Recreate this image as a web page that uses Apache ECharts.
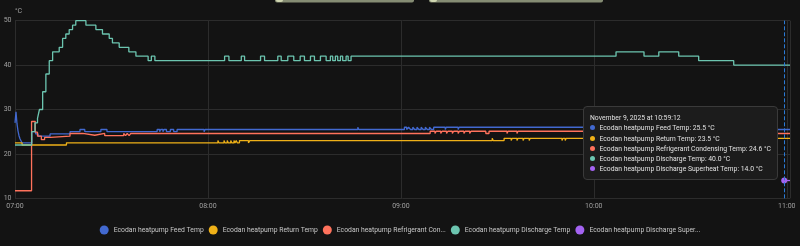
<!DOCTYPE html>
<html><head><meta charset="utf-8">
<script src="https://cdn.jsdelivr.net/npm/echarts@6/dist/echarts.min.js"></script>
<style>html,body{margin:0;padding:0;background:#131313;}#c{width:800px;height:246px;}</style>
</head><body><div id="c"></div>
<script>
// x values are minutes after 07:00 on November 9, 2025
const tickLabels = ['07:00', '08:00', '09:00', '10:00', '11:00'];
const seriesNames = [
  'Ecodan heatpump Feed Temp',
  'Ecodan heatpump Return Temp',
  'Ecodan heatpump Refrigerant Condensing Temp',
  'Ecodan heatpump Discharge Temp',
  'Ecodan heatpump Discharge Superheat Temp'
];
const seriesColors = ['#4269d0', '#efb118', '#ff725c', '#6cc5b0', '#a463f2'];

const feedTemp = [
  [0,27],[0.31,29.5],[0.62,26.8],[0.93,25.2],[1.24,24.1],[1.55,23.4],[2.17,22.5],
  [5.2,25],[6.4,24.5],[7.2,24],[10.9,24.5],[17.1,25],[20.2,25.5],[21.7,25],[26.7,25.5],[28.6,25],
  [44.2,25.5],[45.0,25],[45.3,25.5],[46.0,25],[46.3,25.5],[47.1,25],[48.3,25.5],[49.35,25],[50.4,25.5],
  [58.8,25],[59.1,25.5],[106.6,26],[106.9,25.5],
  [121.1,26],[121.8,25.5],[122.4,26],[123.0,25.5],[123.7,26],[124.3,25.5],[125.0,26],[125.6,25.5],
  [126.3,26],[126.9,25.5],[127.6,26],[128.2,25.5],[128.9,26],[129.5,25.5],[130.2,26],
  [133.8,25.5],[134.1,26],[137.8,25.5],[138.1,26],[212,25.5],[241,25.5]
];
const returnTemp = [
  [0,22.5],[2.2,22],[16,22.5],[63.1,23],[63.4,22.5],[65,23],[65.3,22.5],[66,23],[66.3,22.5],
  [67.1,23],[67.4,22.5],[68.1,23],[68.4,22.5],[68.8,23],[69.1,22.5],[69.8,23],[72.6,22.5],[73.0,23],
  [148.4,23.5],[148.7,23],[152.1,23.5],[154.3,23],[154.6,23.5],[156.1,23],[156.4,23.5],[158,23],
  [158.3,23.5],[159.9,23],[160.2,23.5],[170.1,23],[170.4,23.5],[171.1,23],[171.4,23.5],[241,23.5]
];
const condensingTemp = [
  [0,11.7],[5.15,27.3],[6.3,24.9],[7.0,24],[8.2,23.2],[9.2,23.7],[11,24],[17.1,24.6],[21.1,24.2],
  [24.8,24.6],[27.9,24.1],[33.8,24.6],[34.4,24.1],[34.9,24.6],[35.5,24.1],[36,24.6],
  [129.1,25.1],[130.6,24.6],[131.0,25.1],[132.4,24.6],[132.8,25.1],[134.2,24.6],[134.6,25.1],
  [136.0,24.6],[136.4,25.1],[137.8,24.6],[138.2,25.1],[139.6,24.6],[140.0,25.1],[141.4,24.6],
  [141.8,25.1],[146.4,24.6],[147.4,25.1],[153,24.6],[153.3,25.1],[156.1,24.6],[156.4,25.1],
  [212,24.6],[241,24.6]
];
const dischargeTemp = [
  [0,22],[5.2,25],[6.2,27],[7.0,28],[7.6,30],[8.6,34],[9.6,38],[10.65,41],[11.7,43],[13.75,44],
  [14.8,46],[15.8,47],[16.85,48],[17.9,49],[18.9,50],[22.05,49],[25.15,48],[27.2,47],[29.3,46],
  [30.3,45],[32.4,44],[35.4,43],[37.6,42],[41.4,41],[42.4,42],[43.5,41],
  [65.18,42],[66.52,41],[70.37,42],[71.39,41],[76.36,42],[77.6,41],[81.72,42],[82.78,41],
  [84.83,42],[86.69,41],[88.68,42],[90.01,41],[91.88,42],[93.12,41],[94.98,42],[96.75,41],
  [98.08,42],[98.8,41],[99.63,42],[100.35,41],[101.2,42],[101.9,41],[102.96,42],[103.6,41],[104.5,42],
  [186.9,43],[195.6,42],[200.2,43],[206.4,42],[212.6,41],[223.5,40],[241,40]
];
const superheatTemp = [[239.2,14],[241,14]];

const tipMinute = 239.2;
const tipTitle = 'November 9, 2025 at 10:59:12';
const allData = [feedTemp, returnTemp, condensingTemp, dischargeTemp, superheatTemp];

function valueAt(data, t) {
  let v = null;
  for (const p of data) { if (p[0] <= t + 1e-9) v = p[1]; }
  return v;
}

const FONT = 'Roboto, "Noto Sans", sans-serif';
const chart = echarts.init(document.getElementById('c'), null, {renderer: 'canvas'});

const series = allData.map((d, i) => {
  const s = {
    name: seriesNames[i],
    type: 'line',
    step: 'end',
    data: d,
    symbol: 'none',
    lineStyle: {width: 1.3, color: seriesColors[i]},
    itemStyle: {color: seriesColors[i]},
    emphasis: {disabled: true},
    animation: false
  };
  if (i === 4) {
    s.symbol = 'circle';
    s.symbolSize = 4;
    s.showSymbol = true;
    s.data = d.map((p, k) => k === 0 ? {value: p} : {value: p, symbol: 'none'});
  }
  return s;
});

function tipHtml() {
  let h = '<div style="line-height:10.3px;white-space:nowrap">' + tipTitle + '</div>';
  allData.forEach((d, i) => {
    const v = valueAt(d, tipMinute);
    h += '<div style="line-height:10.3px;white-space:nowrap">' +
      '<span style="display:inline-block;width:5px;height:5px;border-radius:50%;background:' + seriesColors[i] +
      ';margin-right:4.5px;vertical-align:0px"></span>' + seriesNames[i] + ': ' + v.toFixed(1) + ' °C</div>';
  });
  return h;
}

chart.setOption({
  backgroundColor: '#131313',
  animation: false,
  textStyle: {fontFamily: FONT},
  grid: {left: 15, right: 10, top: 20.7, bottom: 47.7, containLabel: false},
  xAxis: {
    type: 'value', min: 0, max: 241, interval: 60,
    axisLine: {show: false}, axisTick: {show: false},
    splitLine: {show: true, lineStyle: {color: '#2c2c2c', width: 1}},
    axisLabel: {
      color: '#a0a0a0', fontSize: 7, fontFamily: FONT, margin: 4, showMaxLabel: false,
      formatter: v => tickLabels[Math.round(v / 60)] || ''
    },
    axisPointer: {snap: false, label: {show: false}}
  },
  yAxis: {
    type: 'value', min: 10, max: 50, interval: 10,
    name: '°C', nameLocation: 'end', nameGap: 6,
    nameTextStyle: {color: '#a0a0a0', fontSize: 7, fontFamily: FONT, align: 'left'},
    axisLine: {show: false}, axisTick: {show: false},
    splitLine: {show: true, lineStyle: {color: '#2c2c2c', width: 1}},
    axisLabel: {color: '#a0a0a0', fontSize: 7, fontFamily: FONT, margin: 3.5}
  },
  legend: {
    top: 220.5, left: 'center', icon: 'circle', itemWidth: 9, itemHeight: 9, itemGap: 5,
    textStyle: {color: '#c8c8c8', fontSize: 6.8, fontFamily: FONT},
    formatter: name => echarts.format.truncateText(name, 113, '6.8px Roboto', '...'),
    data: seriesNames
  },
  tooltip: {
    trigger: 'axis', triggerOn: 'none', alwaysShowContent: true, transitionDuration: 0,
    position: [583, 106],
    backgroundColor: '#1c1c1c', borderColor: '#3a3a3a', borderWidth: 1, padding: [6, 6, 4, 6],
    textStyle: {color: '#e1e1e1', fontSize: 6.8, fontFamily: 'Roboto'},
    extraCssText: 'box-shadow:none;border-radius:4px;',
    axisPointer: {type: 'line', snap: false, animation: false,
      lineStyle: {color: '#2b7bd6', type: 'dashed', width: 1}, label: {show: false}},
    formatter: tipHtml
  },
  graphic: [
    {type: 'rect', shape: {x: 275, y: -4, width: 139, height: 6.5, r: 2}, style: {fill: '#858c73'}},
    {type: 'rect', shape: {x: 276, y: -4, width: 7, height: 6, r: 2}, style: {fill: '#cfd6b0'}},
    {type: 'rect', shape: {x: 429, y: -4, width: 174, height: 6.5, r: 2}, style: {fill: '#858c73'}},
    {type: 'rect', shape: {x: 430, y: -4, width: 7, height: 6, r: 2}, style: {fill: '#cfd6b0'}}
  ],
  series: series
});

const p = chart.convertToPixel({gridIndex: 0}, [tipMinute, 30]);
chart.dispatchAction({type: 'showTip', x: p[0], y: p[1]});
</script>
</body></html>
